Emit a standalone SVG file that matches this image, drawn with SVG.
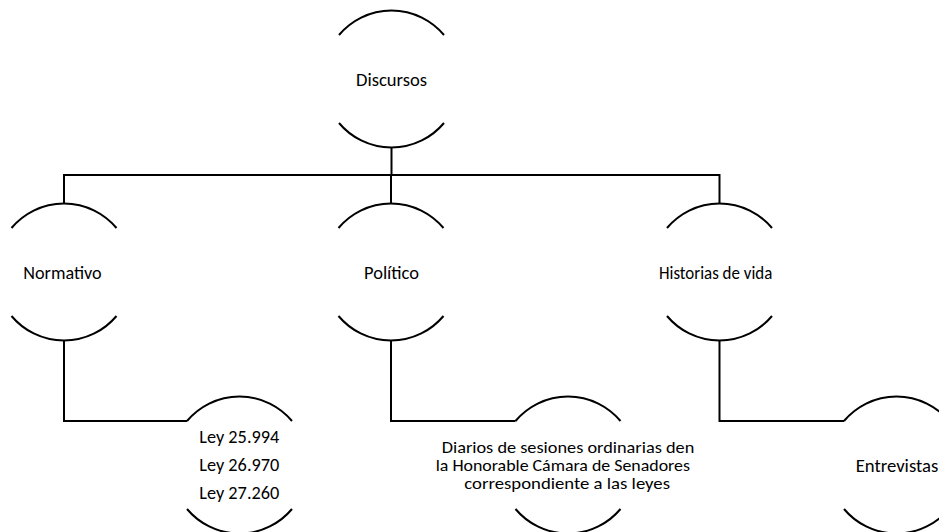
<svg xmlns="http://www.w3.org/2000/svg" width="939" height="532" viewBox="0 0 939 532">
<style>
.arc{fill:none;stroke:#000;stroke-width:2}
.con{fill:none;stroke:#000;stroke-width:2}
text{font-family:Carlito,Calibri,Lato,"Liberation Sans",sans-serif;font-size:18px;fill:#000}
.tight{font-size:16.5px}
</style>
<rect width="939" height="532" fill="#fff"/>
<g id="connectors">
<path class="con" d="M391.5,147.5 V175"/>
<path class="con" d="M64,203.5 V175 H719.5 V203.5"/>
<path class="con" d="M391,175 V203.5"/>
<path class="con" d="M64,340.5 V421 H187"/>
<path class="con" d="M391,340.5 V421 H515.5"/>
<path class="con" d="M719.5,340.5 V421 H844"/>
</g>
<g id="discursos">
<path class="arc" d="M339,35 A68.5,68.5 0 0 1 444,35"/>
<path class="arc" d="M339,123 A68.5,68.5 0 0 0 444,123"/>
<text x="356" y="85.7" textLength="71" lengthAdjust="spacingAndGlyphs">Discursos</text>
</g>
<g id="normativo">
<path class="arc" d="M11.5,228 A68.5,68.5 0 0 1 116.5,228"/>
<path class="arc" d="M11.5,316 A68.5,68.5 0 0 0 116.5,316"/>
<text x="23.3" y="279" textLength="78.4" lengthAdjust="spacingAndGlyphs">Normativo</text>
</g>
<g id="politico">
<path class="arc" d="M338.5,228 A68.5,68.5 0 0 1 443.5,228"/>
<path class="arc" d="M338.5,316 A68.5,68.5 0 0 0 443.5,316"/>
<text x="364" y="278.5" textLength="55" lengthAdjust="spacingAndGlyphs">Político</text>
</g>
<g id="historias">
<path class="arc" d="M667,228 A68.5,68.5 0 0 1 772,228"/>
<path class="arc" d="M667,316 A68.5,68.5 0 0 0 772,316"/>
<text x="659" y="279" textLength="113.3" lengthAdjust="spacingAndGlyphs">Historias de vida</text>
</g>
<g id="leyes">
<path class="arc" d="M187,421 A68.5,68.5 0 0 1 292,421"/>
<path class="arc" d="M187,509 A68.5,68.5 0 0 0 292,509"/>
<text x="199.3" y="442.7" textLength="80" lengthAdjust="spacingAndGlyphs">Ley 25.994</text>
<text x="199.3" y="471" textLength="80" lengthAdjust="spacingAndGlyphs">Ley 26.970</text>
<text x="199.3" y="499.3" textLength="80" lengthAdjust="spacingAndGlyphs">Ley 27.260</text>
</g>
<g id="diarios">
<path class="arc" d="M515.5,421 A68.5,68.5 0 0 1 620.5,421"/>
<path class="arc" d="M515.5,509 A68.5,68.5 0 0 0 620.5,509"/>
<text class="tight" x="441.7" y="452.5" textLength="252.6" lengthAdjust="spacingAndGlyphs">Diarios de sesiones ordinarias den</text>
<text class="tight" x="435.7" y="470.5" textLength="254.3" lengthAdjust="spacingAndGlyphs">la Honorable Cámara de Senadores</text>
<text class="tight" x="464.3" y="488.5" textLength="205.7" lengthAdjust="spacingAndGlyphs">correspondiente a las leyes</text>
</g>
<g id="entrevistas">
<path class="arc" d="M844,421 A68.5,68.5 0 0 1 949,421"/>
<path class="arc" d="M844,509 A68.5,68.5 0 0 0 949,509"/>
<text x="855.7" y="471.7" textLength="82.6" lengthAdjust="spacingAndGlyphs">Entrevistas</text>
</g>
</svg>
